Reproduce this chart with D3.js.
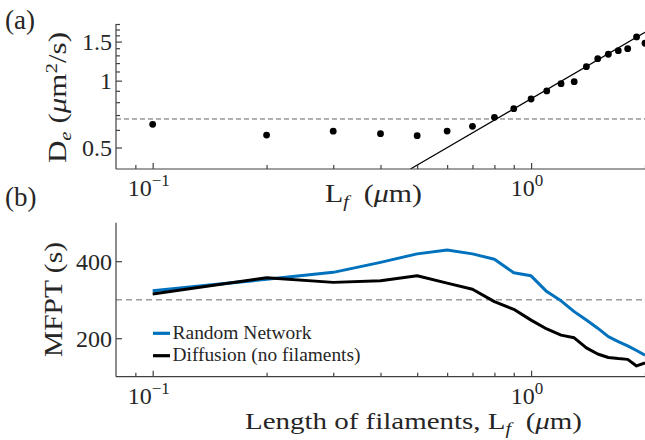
<!DOCTYPE html>
<html>
<head>
<meta charset="utf-8">
<title>De and MFPT vs filament length</title>
<script src="https://cdn.jsdelivr.net/npm/d3@7"></script>
<style>
  body { margin: 0; background: #fff; }
  svg { display: block; }
  text { font-family: "Liberation Serif", "DejaVu Serif", serif; fill: #262626; }
  .axis path, .axis line { stroke: #404040; stroke-width: 1.2px; }
</style>
</head>
<body>
<svg width="645" height="440"></svg>
<script>
// filament lengths (um)
var lengths = [0.1, 0.2, 0.3, 0.4, 0.5, 0.6, 0.7, 0.8, 0.9, 1.0,
               1.1, 1.2, 1.3, 1.4, 1.5, 1.6, 1.7, 1.8, 1.9, 2.0];
// panel (a): effective diffusion coefficient
var deff = [0.636, 0.569, 0.592, 0.577, 0.565, 0.593, 0.623, 0.684, 0.748, 0.827,
            0.899, 0.969, 0.990, 1.156, 1.256, 1.315, 1.365, 1.394, 1.574, 1.474];
var fitLen = [0.48, 2.0];
var fitDe = [0.40, 1.65];
var deffRef = 0.672;
// panel (b): mean first passage time (s)
var mfptRandom = [323, 353, 371, 397, 419, 429, 419, 405, 370, 362,
                  321, 297, 269, 247, 226, 204, 191, 180, 168, 156];
var mfptDiffusion = [315, 357, 345, 349, 362, 343, 327, 295, 275, 247,
                     224, 208, 201, 175, 159, 150, 147, 145, 128, 136];
var mfptRef = 300;
var legendLabels = ["Random Network", "Diffusion (no filaments)"];
var seriesColors = ["#0072bd", "#000000"];

var xMinor = [0.09, 0.2, 0.3, 0.4, 0.5, 0.6, 0.7, 0.8, 0.9, 2];
var xMajor = [0.1, 1];
var xExp = ["\u22121", "0"];
var yaMajor = [0.5, 1, 1.5];
var yaLabels = ["0.5", "1", "1.5"];
var yaMinor = [0.6, 0.7, 0.8, 0.9, 1.1, 1.2, 1.3, 1.4, 1.6, 1.7, 1.8];
var ybMajor = [200, 400];

var svg = d3.select("svg");
var left = 116, right = 645;

var x = d3.scaleLog().domain([0.08, 2]).range([left, right]);
var ya = d3.scaleLog().domain([0.4, 1.8]).range([169, 24]);
var yb = d3.scaleLinear().domain([100, 500]).range([376.7, 222.7]);

svg.append("clipPath").attr("id", "clipA")
  .append("rect").attr("x", left).attr("y", 20).attr("width", right - left + 2).attr("height", 149);
svg.append("clipPath").attr("id", "clipB")
  .append("rect").attr("x", left).attr("y", 215).attr("width", right - left + 2).attr("height", 162);

function drawXAxis(y0) {
  var g = svg.append("g").attr("class", "axis").attr("transform", "translate(0," + y0 + ")");
  g.call(d3.axisBottom(x).tickValues(xMajor).tickSize(-6).tickSizeOuter(0).tickFormat(""));
  g.select(".domain").remove();
  g.append("g").call(d3.axisBottom(x).tickValues(xMinor).tickSize(-4).tickSizeOuter(0).tickFormat(""))
    .select(".domain").remove();
  g.append("line").attr("x1", left).attr("x2", right).attr("y1", 0).attr("y2", 0);
  xMajor.forEach(function(v, i) {
    var t = g.append("text").attr("x", x(v) - 4).attr("y", 27)
      .attr("text-anchor", "middle").style("font-size", "24px");
    t.append("tspan").text("10");
    t.append("tspan").attr("dy", -10).style("font-size", "17px").text(xExp[i]);
  });
}

function drawYAxis(scale, major, labels, minor, top, bottom) {
  var g = svg.append("g").attr("class", "axis").attr("transform", "translate(" + left + ",0)");
  g.call(d3.axisRight(scale).tickValues(major).tickSize(6).tickSizeOuter(0).tickFormat(""));
  g.select(".domain").remove();
  if (minor.length) {
    g.append("g").call(d3.axisRight(scale).tickValues(minor).tickSize(4).tickSizeOuter(0).tickFormat(""))
      .select(".domain").remove();
  }
  g.append("line").attr("x1", 0).attr("x2", 0).attr("y1", top).attr("y2", bottom);
  major.forEach(function(v, i) {
    g.append("text").attr("x", -4).attr("y", scale(v)).attr("dy", "0.35em")
      .attr("text-anchor", "end").style("font-size", "24px").text(labels[i]);
  });
}

// ---- panel (a)
var pa = svg.append("g").attr("clip-path", "url(#clipA)");
pa.append("line")
  .attr("x1", left).attr("x2", right)
  .attr("y1", ya(deffRef)).attr("y2", ya(deffRef))
  .attr("stroke", "#666").attr("stroke-width", 1).attr("stroke-dasharray", "5,3");
pa.append("path")
  .datum(fitLen.map(function(d, i) { return [d, fitDe[i]]; }))
  .attr("fill", "none").attr("stroke", "#000").attr("stroke-width", 1.2)
  .attr("d", d3.line().x(function(d) { return x(d[0]); }).y(function(d) { return ya(d[1]); }));
pa.selectAll("circle").data(lengths).enter().append("circle")
  .attr("cx", function(d) { return x(d); })
  .attr("cy", function(d, i) { return ya(deff[i]); })
  .attr("r", 3.4).attr("fill", "#000");

drawXAxis(169);
drawYAxis(ya, yaMajor, yaLabels, yaMinor, 24, 169);

// ---- panel (b)
var pb = svg.append("g").attr("clip-path", "url(#clipB)");
pb.append("line")
  .attr("x1", left).attr("x2", right)
  .attr("y1", yb(mfptRef)).attr("y2", yb(mfptRef))
  .attr("stroke", "#9a9a9a").attr("stroke-width", 1.4).attr("stroke-dasharray", "6,4");
var lineB = d3.line().x(function(d) { return x(d[0]); }).y(function(d) { return yb(d[1]); });
[mfptRandom, mfptDiffusion].forEach(function(series, k) {
  pb.append("path")
    .datum(lengths.map(function(d, i) { return [d, series[i]]; }))
    .attr("fill", "none").attr("stroke", seriesColors[k]).attr("stroke-width", 3)
    .attr("stroke-linejoin", "round").attr("d", lineB);
});

drawXAxis(376.7);
drawYAxis(yb, ybMajor, ["200", "400"], [], 222.7, 376.7);

// legend
var legendWidths = [139, 188];
legendLabels.forEach(function(lab, i) {
  var ly = 333.3 + i * 22.4;
  svg.append("line").attr("x1", 153).attr("x2", 170).attr("y1", ly).attr("y2", ly)
    .attr("stroke", seriesColors[i]).attr("stroke-width", 3.2);
  svg.append("text").attr("x", 172.5).attr("y", ly + 5.5).style("font-size", "18.5px")
    .attr("textLength", legendWidths[i]).attr("lengthAdjust", "spacingAndGlyphs").text(lab);
});

// panel labels
svg.append("text").attr("x", 5).attr("y", 29).style("font-size", "27px").text("(a)");
svg.append("text").attr("x", 5).attr("y", 206).style("font-size", "27px").text("(b)");

// axis titles
var t1 = svg.append("text").attr("x", 325).attr("y", 202).style("font-size", "25px")
  .attr("textLength", 97).attr("lengthAdjust", "spacingAndGlyphs");
t1.append("tspan").text("L");
t1.append("tspan").attr("dy", 5).style("font-size", "17px").style("font-style", "italic").text("f");
t1.append("tspan").attr("dy", -5).text("\u2002(");
t1.append("tspan").style("font-style", "italic").text("\u03bc");
t1.append("tspan").text("m)");

var t2 = svg.append("text").attr("x", 245).attr("y", 429).style("font-size", "24px")
  .attr("textLength", 337).attr("lengthAdjust", "spacingAndGlyphs");
t2.append("tspan").text("Length of filaments, L");
t2.append("tspan").attr("dy", 5).style("font-size", "17px").style("font-style", "italic").text("f");
t2.append("tspan").attr("dy", -5).text("\u2002(");
t2.append("tspan").style("font-style", "italic").text("\u03bc");
t2.append("tspan").text("m)");

var t3 = svg.append("text").attr("transform", "translate(66,163) rotate(-90)").style("font-size", "25px")
  .attr("textLength", 131).attr("lengthAdjust", "spacingAndGlyphs");
t3.append("tspan").text("D");
t3.append("tspan").attr("dy", 5).style("font-size", "17px").style("font-style", "italic").text("e");
t3.append("tspan").attr("dy", -5).text(" (");
t3.append("tspan").style("font-style", "italic").text("\u03bc");
t3.append("tspan").text("m");
t3.append("tspan").attr("dy", -9).style("font-size", "17px").text("2");
t3.append("tspan").attr("dy", 9).text("/s)");

svg.append("text").attr("transform", "translate(62,357) rotate(-90)")
  .style("font-size", "25px").attr("textLength", 115).attr("lengthAdjust", "spacingAndGlyphs")
  .text("MFPT (s)");
</script>
</body>
</html>
